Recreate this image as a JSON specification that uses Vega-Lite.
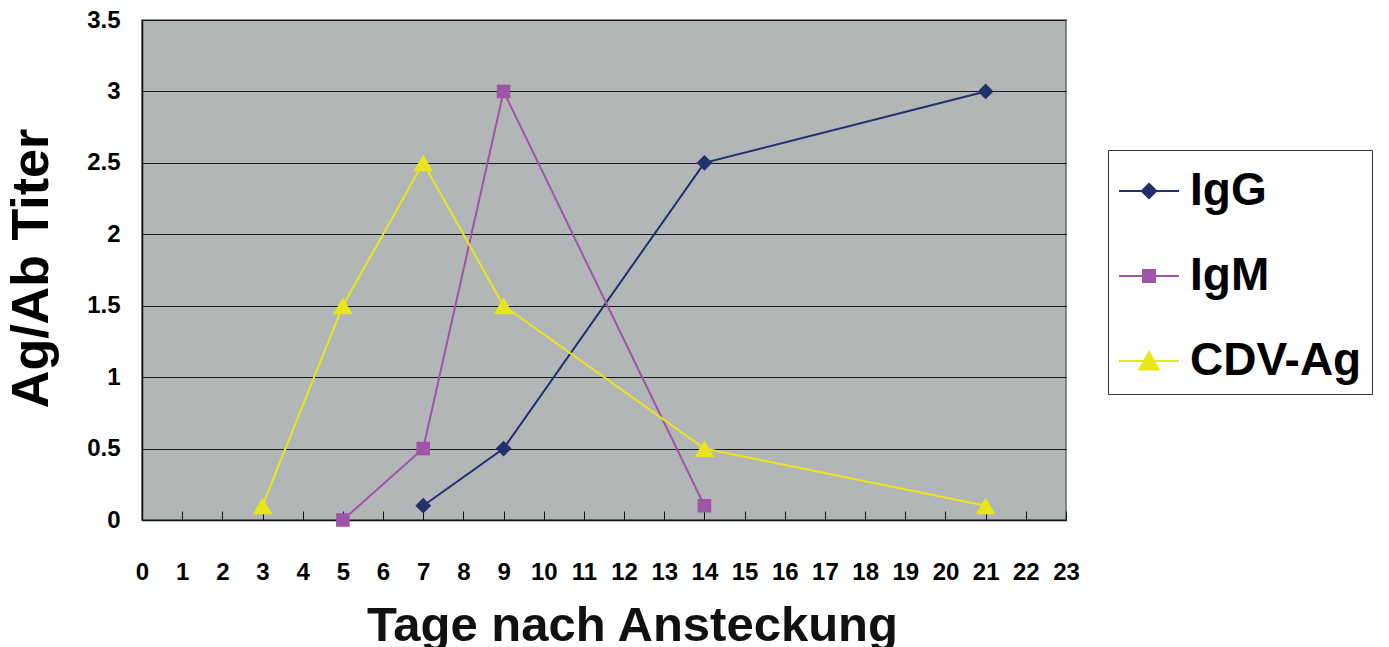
{
  "$schema": "https://vega.github.io/schema/vega-lite/v6.json",
  "width": 924,
  "height": 500,
  "autosize": "none",
  "padding": {"left": 142, "top": 20, "right": 323, "bottom": 127},
  "background": "white",
  "config": {
    "view": {"fill": "#b3b6b7", "stroke": "#666666", "strokeWidth": 1.5},
    "font": "Liberation Sans",
    "legend": {
      "title": null,
      "orient": "none", "legendX": 966, "legendY": 130,
      "strokeColor": "#333333", "fillColor": "white",
      "padding": 10,
      "rowPadding": 31,
      "symbolSize": 3600,
      "symbolStrokeWidth": 2,
      "labelOffset": 10,
      "labelLimit": 400,
      "labelFont": "Liberation Sans", "labelFontWeight": "bold", "labelFontSize": 46, "labelColor": "#000000"
    }
  },
  "data": {
    "values": [
      {"tag": 7, "titer": 0.1, "serie": "IgG"},
      {"tag": 9, "titer": 0.5, "serie": "IgG"},
      {"tag": 14, "titer": 2.5, "serie": "IgG"},
      {"tag": 21, "titer": 3.0, "serie": "IgG"},
      {"tag": 5, "titer": 0.0, "serie": "IgM"},
      {"tag": 7, "titer": 0.5, "serie": "IgM"},
      {"tag": 9, "titer": 3.0, "serie": "IgM"},
      {"tag": 14, "titer": 0.1, "serie": "IgM"},
      {"tag": 3, "titer": 0.1, "serie": "CDV-Ag"},
      {"tag": 5, "titer": 1.5, "serie": "CDV-Ag"},
      {"tag": 7, "titer": 2.5, "serie": "CDV-Ag"},
      {"tag": 9, "titer": 1.5, "serie": "CDV-Ag"},
      {"tag": 14, "titer": 0.5, "serie": "CDV-Ag"},
      {"tag": 21, "titer": 0.1, "serie": "CDV-Ag"}
    ]
  },
  "encoding": {
    "x": {
      "field": "tag", "type": "quantitative",
      "scale": {"domain": [0, 23], "nice": false, "zero": false},
      "axis": {
        "title": "Tage nach Ansteckung",
        "values": [0,1,2,3,4,5,6,7,8,9,10,11,12,13,14,15,16,17,18,19,20,21,22,23],
        "format": "d",
        "grid": false,
        "labelFlush": false,
        "labelOverlap": false,
        "domainColor": "#111111", "domainWidth": 1.5,
        "tickColor": "#111111", "tickSize": -9, "tickWidth": 1,
        "labelPadding": 49,
        "labelFont": "Liberation Sans", "labelFontWeight": "bold", "labelFontSize": 24, "labelColor": "#000000",
        "titleFont": "Liberation Sans", "titleFontWeight": "bold", "titleFontSize": 49, "titleColor": "#111111",
        "titleX": 490, "titleY": 120, "titleBaseline": "alphabetic", "titleAlign": "center"
      }
    },
    "y": {
      "field": "titer", "type": "quantitative",
      "scale": {"domain": [0, 3.5], "nice": false},
      "axis": {
        "title": "Ag/Ab Titer",
        "values": [0, 0.5, 1, 1.5, 2, 2.5, 3, 3.5],
        "format": "~g",
        "grid": true, "gridColor": "#1a1a1a", "gridWidth": 1.2, "gridOpacity": 1,
        "domainColor": "#111111", "domainWidth": 1.5,
        "ticks": false,
        "labelPadding": 22,
        "labelFont": "Liberation Sans", "labelFontWeight": "bold", "labelFontSize": 24, "labelColor": "#000000",
        "titleFont": "Liberation Sans", "titleFontWeight": "bold", "titleFontSize": 52, "titleColor": "#000000",
        "titleX": -95, "titleY": 248, "titleBaseline": "alphabetic", "titleAlign": "center", "titleAngle": -90
      }
    }
  },
  "resolve": {"legend": {"color": "independent", "shape": "independent", "size": "independent"}},
  "layer": [
    {
      "mark": {"type": "line", "strokeWidth": 2},
      "encoding": {
        "color": {
          "field": "serie", "type": "nominal",
          "scale": {"domain": ["IgG", "IgM", "CDV-Ag"], "range": ["#22306e", "#a054a8", "#e8e51a"]},
          "legend": {
            "encode": {
              "symbols": {
                "update": {
                  "shape": {"signal": "datum.value === 'IgG' ? 'M-1,0H1M0,-0.24L0.24,0L0,0.24L-0.24,0Z' : datum.value === 'IgM' ? 'M-1,0H1M-0.2,-0.2H0.2V0.2H-0.2Z' : 'M-1,0H1M0,-0.3L0.32,0.28H-0.32Z'"},
                  "stroke": {"signal": "scale('color', datum.value)"},
                  "fill": {"signal": "scale('color', datum.value)"},
                  "strokeWidth": {"value": 2},
                  "opacity": {"value": 1}
                }
              }
            }
          }
        }
      }
    },
    {
      "mark": {"type": "point", "filled": true, "opacity": 1},
      "encoding": {
        "color": {
          "field": "serie", "type": "nominal",
          "scale": {"domain": ["IgG", "IgM", "CDV-Ag"], "range": ["#22306e", "#a054a8", "#e8e51a"]},
          "legend": null
        },
        "shape": {
          "field": "serie", "type": "nominal",
          "scale": {"domain": ["IgG", "IgM", "CDV-Ag"], "range": ["diamond", "square", "triangle-up"]},
          "legend": null
        },
        "size": {
          "field": "serie", "type": "nominal",
          "scale": {"type": "ordinal", "domain": ["IgG", "IgM", "CDV-Ag"], "range": [250, 185, 380]},
          "legend": null
        }
      }
    }
  ]
}
